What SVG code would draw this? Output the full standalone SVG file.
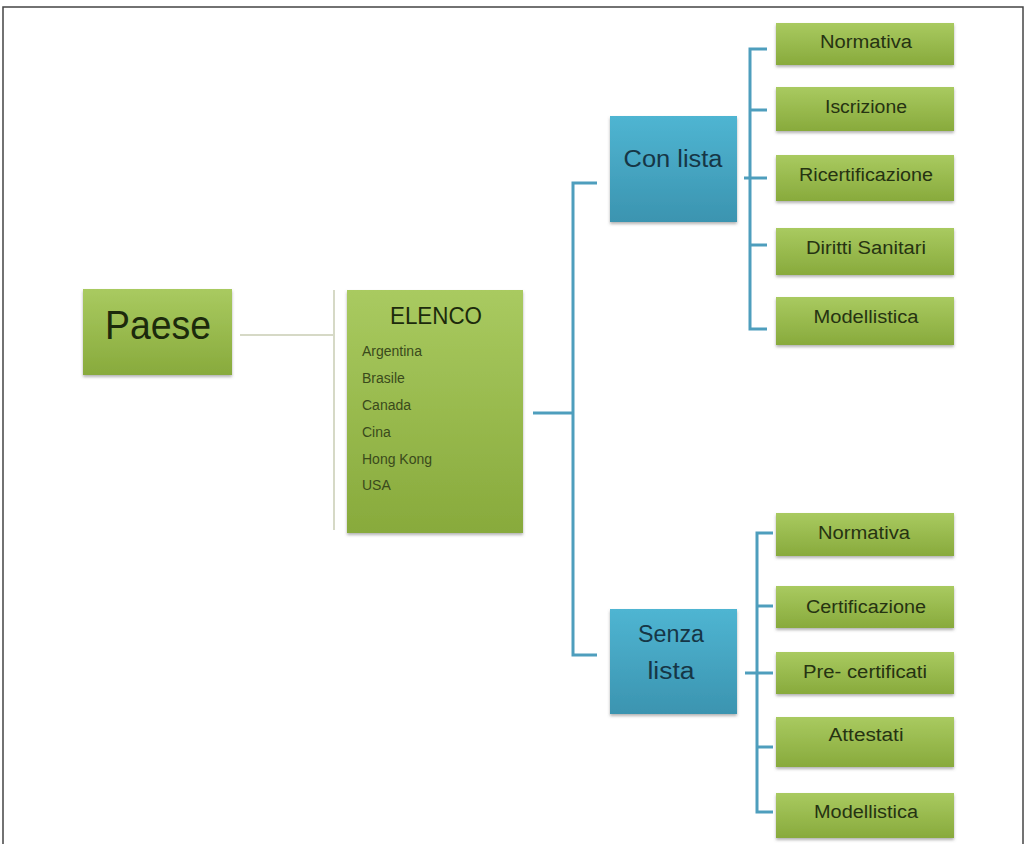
<svg xmlns="http://www.w3.org/2000/svg" width="1026" height="844" viewBox="0 0 1026 844">
<defs>
<linearGradient id="gg" x1="0" y1="0" x2="0" y2="1">
<stop offset="0" stop-color="#a9ca60"/>
<stop offset="1" stop-color="#88aa3c"/>
</linearGradient>
<linearGradient id="bg" x1="0" y1="0" x2="0" y2="1">
<stop offset="0" stop-color="#4fb5d2"/>
<stop offset="1" stop-color="#3b94b0"/>
</linearGradient>
<filter id="sh" x="-10%" y="-10%" width="120%" height="130%">
<feDropShadow dx="0" dy="2" stdDeviation="1.5" flood-color="#666" flood-opacity="0.5"/>
</filter>
</defs>
<style>
.g{fill:url(#gg);filter:url(#sh)}
.b{fill:url(#bg);filter:url(#sh)}
text{font-family:"Liberation Sans",Arial,sans-serif;fill:#263312}
.lbl{font-size:18px;text-anchor:middle}
.it{font-size:14px;fill:#3a4a1c}
.bt{font-size:23px;text-anchor:middle;fill:#163646}
.blue{stroke:#4e9ebd;stroke-width:3;fill:none}
.grey{stroke:#d6d9c6;stroke-width:2;fill:none}
</style>
<rect x="3" y="7" width="1020" height="850" fill="#fff" stroke="#444" stroke-width="1.5"/>
<g id="connectors">
<line class="grey" x1="240" y1="335" x2="333" y2="335"/>
<line class="grey" x1="334" y1="290" x2="334" y2="530"/>
<line class="blue" x1="533" y1="413" x2="573" y2="413"/>
<path class="blue" d="M597 183 H573 V655 H597"/>
<path class="blue" d="M767 49 H750 V329 H767"/>
<line class="blue" x1="750" y1="110" x2="767" y2="110"/>
<line class="blue" x1="744" y1="178" x2="767" y2="178"/>
<line class="blue" x1="750" y1="245" x2="767" y2="245"/>
<path class="blue" d="M773 533 H757 V812 H773"/>
<line class="blue" x1="757" y1="606" x2="773" y2="606"/>
<line class="blue" x1="745" y1="673" x2="773" y2="673"/>
<line class="blue" x1="757" y1="747" x2="773" y2="747"/>
</g>
<g id="paese">
<rect class="g" x="83" y="289" width="149" height="86"/>
<text x="158" y="339" font-size="40" text-anchor="middle" textLength="106" lengthAdjust="spacingAndGlyphs" style="fill:#1c2a0c">Paese</text>
</g>
<g id="elenco">
<rect class="g" x="347" y="290" width="176" height="243"/>
<text x="436" y="324" font-size="23" text-anchor="middle" textLength="92" lengthAdjust="spacingAndGlyphs" style="fill:#1c2a0c">ELENCO</text>
<text class="it" x="362" y="356">Argentina</text>
<text class="it" x="362" y="383">Brasile</text>
<text class="it" x="362" y="410">Canada</text>
<text class="it" x="362" y="437">Cina</text>
<text class="it" x="362" y="464">Hong Kong</text>
<text class="it" x="362" y="490">USA</text>
</g>
<g id="con-lista">
<rect class="b" x="610" y="116" width="127" height="106"/>
<text class="bt" x="673" y="167" textLength="99" lengthAdjust="spacingAndGlyphs">Con lista</text>
</g>
<g id="senza-lista">
<rect class="b" x="610" y="609" width="127" height="105"/>
<text class="bt" x="671" y="642" textLength="66" lengthAdjust="spacingAndGlyphs">Senza</text>
<text class="bt" x="671" y="679" textLength="47" lengthAdjust="spacingAndGlyphs">lista</text>
</g>
<g id="c-normativa">
<rect class="g" x="776" y="23" width="178" height="42"/>
<text class="lbl" x="866" y="48" textLength="92" lengthAdjust="spacingAndGlyphs">Normativa</text>
</g>
<g id="c-iscrizione">
<rect class="g" x="776" y="87" width="178" height="44"/>
<text class="lbl" x="866" y="113" textLength="82" lengthAdjust="spacingAndGlyphs">Iscrizione</text>
</g>
<g id="c-ricertificazione">
<rect class="g" x="776" y="155" width="178" height="46"/>
<text class="lbl" x="866" y="181" textLength="134" lengthAdjust="spacingAndGlyphs">Ricertificazione</text>
</g>
<g id="c-diritti">
<rect class="g" x="776" y="228" width="178" height="47"/>
<text class="lbl" x="866" y="254" textLength="120" lengthAdjust="spacingAndGlyphs">Diritti Sanitari</text>
</g>
<g id="c-modellistica">
<rect class="g" x="776" y="297" width="178" height="48"/>
<text class="lbl" x="866" y="323" textLength="105" lengthAdjust="spacingAndGlyphs">Modellistica</text>
</g>
<g id="s-normativa">
<rect class="g" x="776" y="513" width="178" height="43"/>
<text class="lbl" x="864" y="539" textLength="92" lengthAdjust="spacingAndGlyphs">Normativa</text>
</g>
<g id="s-certificazione">
<rect class="g" x="776" y="586" width="178" height="42"/>
<text class="lbl" x="866" y="613" textLength="120" lengthAdjust="spacingAndGlyphs">Certificazione</text>
</g>
<g id="s-precertificati">
<rect class="g" x="776" y="652" width="178" height="42"/>
<text class="lbl" x="865" y="678" textLength="124" lengthAdjust="spacingAndGlyphs">Pre- certificati</text>
</g>
<g id="s-attestati">
<rect class="g" x="776" y="717" width="178" height="50"/>
<text class="lbl" x="866" y="741" textLength="75" lengthAdjust="spacingAndGlyphs">Attestati</text>
</g>
<g id="s-modellistica">
<rect class="g" x="776" y="793" width="178" height="45"/>
<text class="lbl" x="866" y="818" textLength="104" lengthAdjust="spacingAndGlyphs">Modellistica</text>
</g>
</svg>
